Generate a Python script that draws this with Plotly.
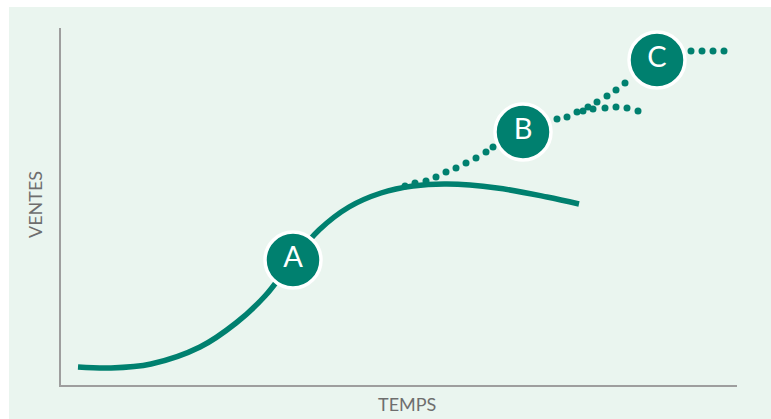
import plotly.graph_objects as go

# Main sales curve (arbitrary units: x = time, y = sales)
curve_x = [17, 50, 90, 139, 175, 204, 232, 258, 288, 320, 352, 386, 436, 486, 518]
curve_y = [18, 17, 21, 38, 62, 89, 125, 155, 178, 192, 199, 201, 197, 188, 181]

# Dotted relaunch paths (each dot)
dots_x = [344, 354, 365, 375, 385, 395, 405, 415, 425, 432,
          496, 506, 516, 522, 527,
          536, 546, 555, 564,
          532, 544, 555, 566, 577,
          630, 641, 652, 663]
dots_y = [199, 202, 204, 208, 213, 217, 222, 227, 233, 238,
          266, 268, 273, 274, 278,
          283, 289, 295, 302,
          276, 277, 278, 277, 274,
          334, 334, 334, 334]

# Stage markers
stage_labels = ["A", "B", "C"]
stage_x = [232, 462, 596]
stage_y = [125, 253, 325]

teal = "#00806F"
bg = "#EAF5EF"
axis_col = "#9E9E9E"
text_col = "#6E6E6E"

fig = go.Figure()
fig.add_trace(go.Scatter(x=curve_x, y=curve_y, mode="lines",
                         line=dict(color=teal, width=5.5, shape="spline", smoothing=1.0),
                         hoverinfo="skip", showlegend=False))
fig.add_trace(go.Scatter(x=dots_x, y=dots_y, mode="markers",
                         marker=dict(color=teal, size=7, line=dict(width=0)),
                         hoverinfo="skip", showlegend=False))
fig.add_trace(go.Scatter(x=stage_x, y=stage_y, mode="markers+text",
                         text=stage_labels, textposition="middle center",
                         textfont=dict(family="Lato", size=29, color="white"),
                         marker=dict(color=teal, size=56, line=dict(color="white", width=3.5)),
                         hoverinfo="skip", showlegend=False))

fig.update_layout(
    width=771, height=419,
    margin=dict(l=61, r=34, t=28, b=34),
    paper_bgcolor="white",
    plot_bgcolor=bg,
    xaxis=dict(range=[0, 676], showline=True, linecolor=axis_col, linewidth=2,
               showgrid=False, zeroline=False, showticklabels=False, ticks=""),
    yaxis=dict(range=[0, 357], showline=True, linecolor=axis_col, linewidth=2,
               showgrid=False, zeroline=False, showticklabels=False, ticks=""),
    shapes=[dict(type="rect", xref="paper", yref="paper",
                 x0=-0.0769, x1=1.06, y0=-0.1, y1=1.0588,
                 fillcolor=bg, line=dict(width=0), layer="below")],
    annotations=[
        dict(text="TEMPS", xref="paper", yref="paper", x=0.512, y=-0.053,
             showarrow=False, xanchor="center", yanchor="middle",
             font=dict(family="Lato", size=18, color=text_col)),
        dict(text="VENTES", xref="paper", yref="paper", x=-0.0392, y=0.5056,
             showarrow=False, xanchor="center", yanchor="middle", textangle=-90,
             font=dict(family="Lato", size=18, color=text_col)),
    ],
)

fig.write_html("out.html")
